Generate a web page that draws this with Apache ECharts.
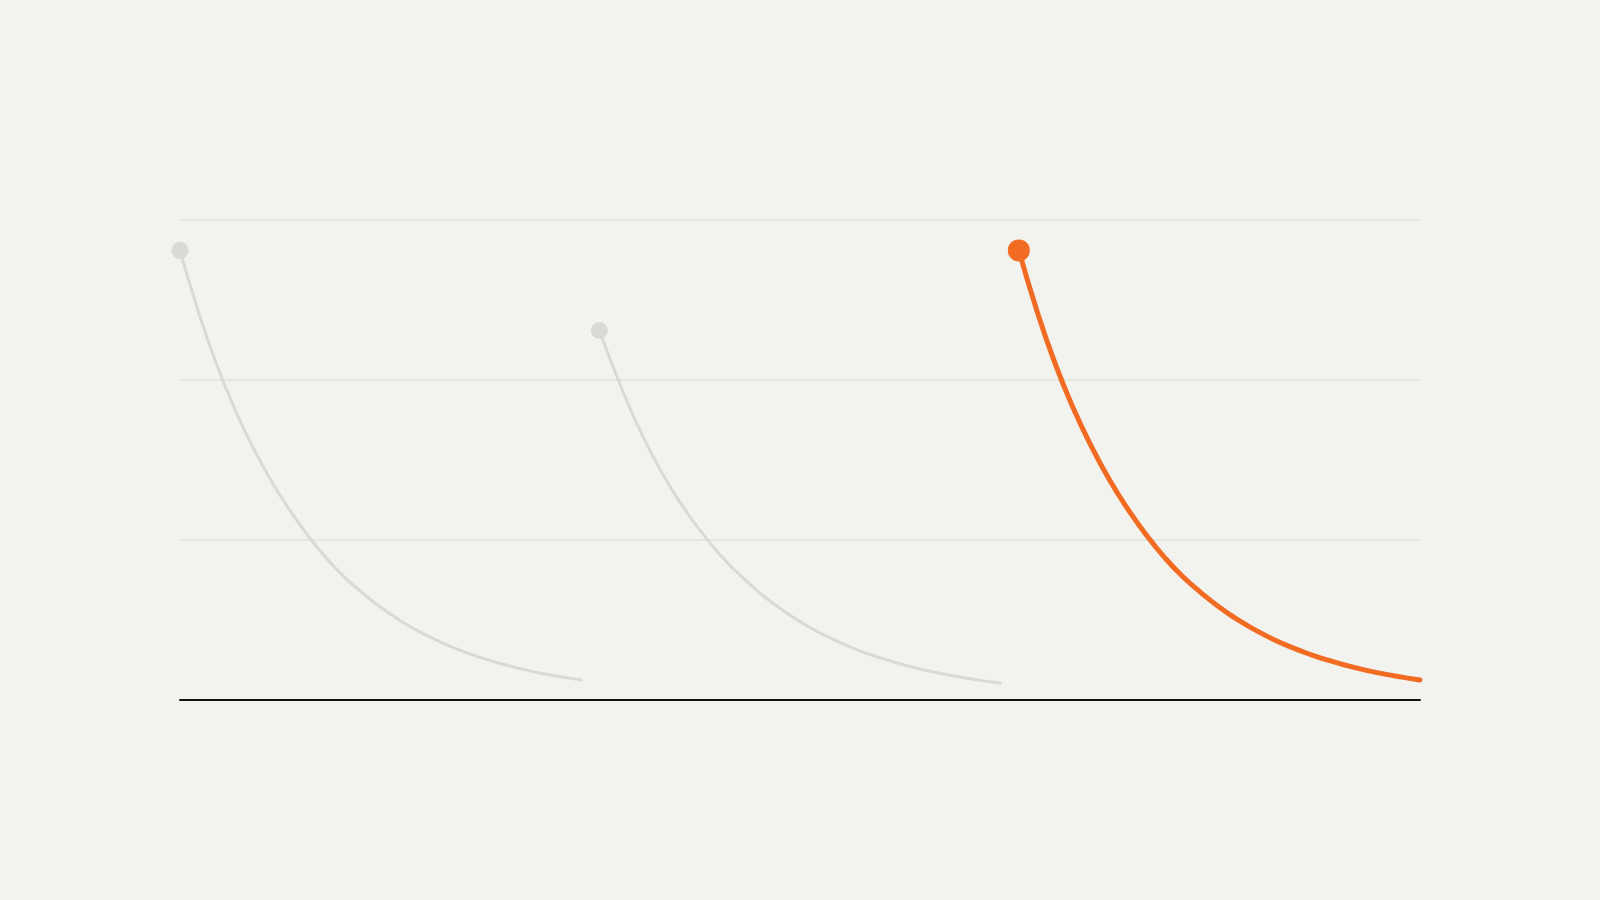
<!DOCTYPE html>
<html>
<head>
<meta charset="utf-8">
<script src="https://cdn.jsdelivr.net/npm/echarts@6/dist/echarts.min.js"></script>
<style>
  html, body { margin: 0; padding: 0; background: #f2f2ee; }
  #chart { width: 1600px; height: 900px; }
</style>
</head>
<body>
<div id="chart"></div>
<script>
// start x of each curve (each curve has one point per step, 23 steps)
const curveStarts = [0, 23, 46];
// values
const curveA = [28.1, 24.3, 21.0, 18.2, 15.8, 13.7, 11.9, 10.3, 8.9, 7.7, 6.7, 5.8, 5.02, 4.35, 3.77, 3.27, 2.84, 2.47, 2.15, 1.87, 1.63, 1.43, 1.25];
const curveB = [23.1, 20.1, 17.4, 15.1, 13.1, 11.4, 9.9, 8.6, 7.5, 6.5, 5.65, 4.9, 4.25, 3.7, 3.2, 2.78, 2.42, 2.1, 1.83, 1.6, 1.39, 1.21, 1.05];
const curveC = [28.1, 24.3, 21.0, 18.2, 15.8, 13.7, 11.9, 10.3, 8.9, 7.7, 6.7, 5.8, 5.02, 4.35, 3.77, 3.27, 2.84, 2.47, 2.15, 1.87, 1.63, 1.43, 1.25];
const yTicks = [0, 10, 20, 30];

function pairs(start, vals) {
  return vals.map((v, i) => [start + i, v]);
}

function lineSeries(vals, start, color, width, dotSize, z) {
  return {
    type: 'line',
    data: pairs(start, vals),
    smooth: 0.5,
    z: z,
    symbol: 'circle',
    symbolSize: (v, p) => (p.dataIndex === 0 ? dotSize : 0),
    showAllSymbol: true,
    itemStyle: { color: color },
    lineStyle: { color: color, width: width, cap: 'round' },
    emphasis: { disabled: true },
    silent: true
  };
}

const chart = echarts.init(document.getElementById('chart'));
chart.setOption({
  backgroundColor: '#f2f2ee',
  animation: false,
  grid: { left: 180, right: 180, top: 220, bottom: 200 },
  xAxis: {
    type: 'value',
    min: 0,
    max: 68,
    axisLine: { show: true, lineStyle: { color: '#111111', width: 2 } },
    axisTick: { show: false },
    axisLabel: { show: false },
    splitLine: { show: false }
  },
  yAxis: {
    type: 'value',
    min: yTicks[0],
    max: yTicks[yTicks.length - 1],
    interval: 10,
    axisLine: { show: false },
    axisTick: { show: false },
    axisLabel: { show: false },
    splitLine: { show: true, lineStyle: { color: '#e2e2dd', width: 1.5 } }
  },
  series: [
    lineSeries(curveA, curveStarts[0], '#d9d9d5', 3, 17, 2),
    lineSeries(curveB, curveStarts[1], '#d9d9d5', 3, 17, 2),
    lineSeries(curveC, curveStarts[2], '#f26b22', 5, 22, 3)
  ]
});
</script>
</body>
</html>
